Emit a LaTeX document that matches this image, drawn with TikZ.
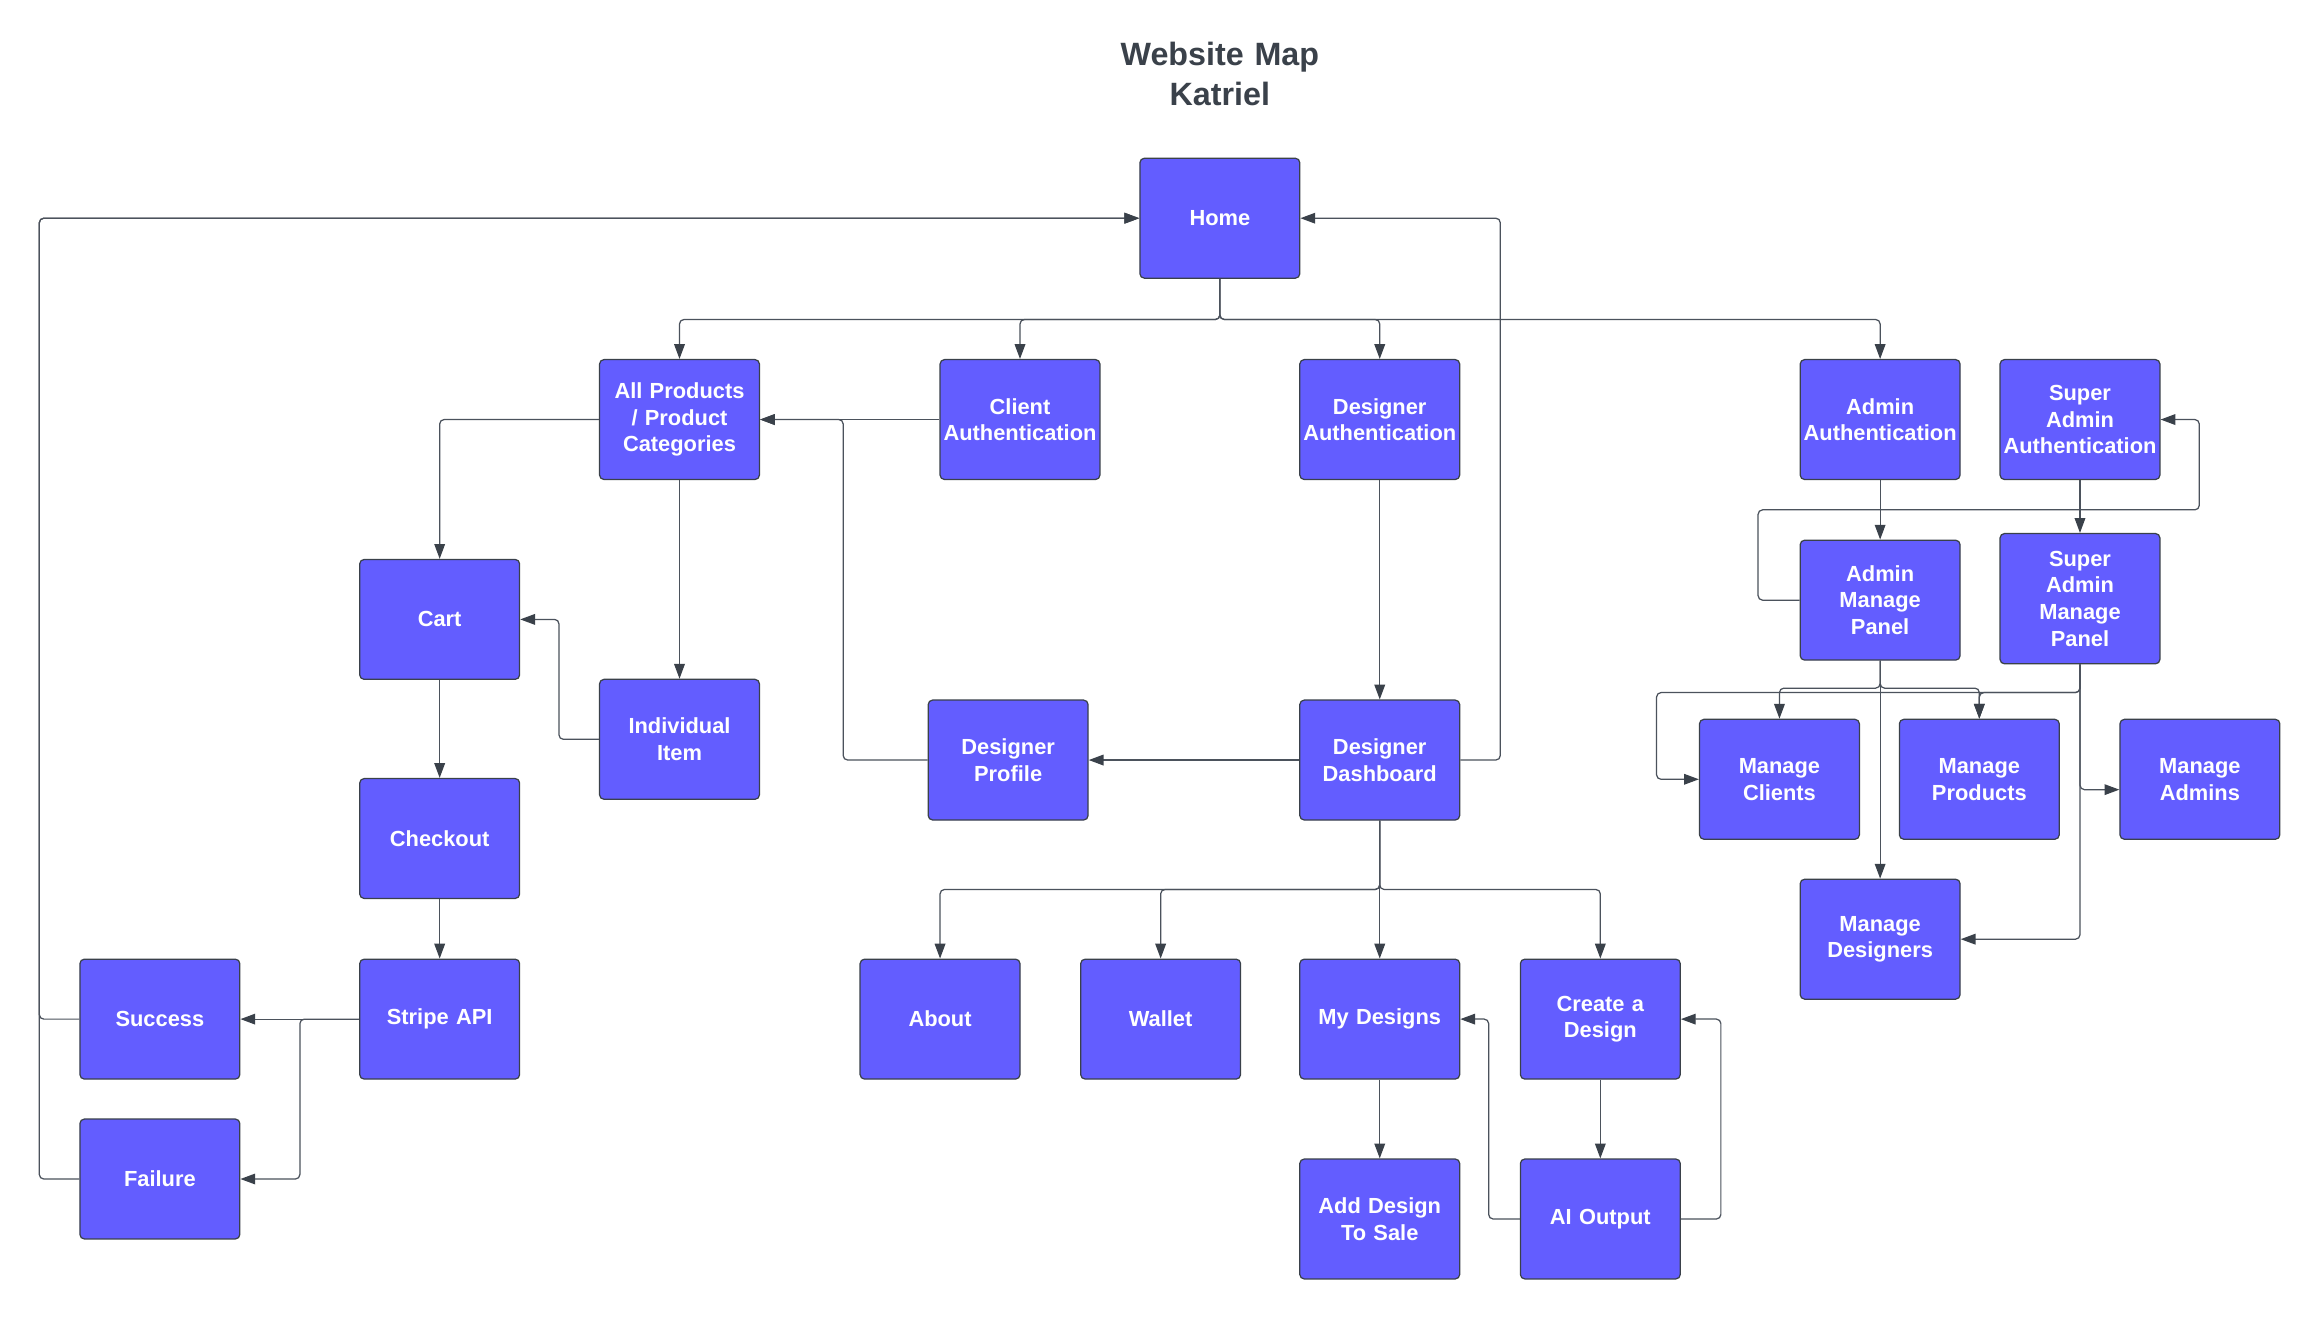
\documentclass[tikz,border=0pt]{standalone}
\usepackage{fontspec}
\setmainfont{Liberation Sans}
\usetikzlibrary{arrows.meta}
\definecolor{boxfill}{HTML}{635DFF}
\definecolor{boxline}{HTML}{3A414A}
\definecolor{wire}{HTML}{4B525C}
\tikzstyle{page} = [rectangle, rounded corners=0.15cm, minimum width=5.4cm, minimum height=4.05cm, text width=5.2cm, inner sep=0.1cm, text centered, draw=boxline, line width=1.2pt, fill=boxfill, text=white, font=\fontsize{21}{25.6}\selectfont\bfseries]
\tikzstyle{tallpage} = [page, minimum height=4.4cm]
\tikzstyle{title} = [text width=12cm, text centered, text=boxline, font=\fontsize{31}{38.4}\selectfont\bfseries]
\tikzstyle{arrow} = [line width=1.2pt, draw=wire, rounded corners=0.15cm, ->, >={Stealth[length=0.5cm, width=0.36cm, inset=0pt, color=boxline]}]

\begin{document}
\begin{tikzpicture}[node distance=6.8cm]
\fill [white] (-41.2,7.37) rectangle (37.19,-37.21);
\useasboundingbox (-41.2,7.37) rectangle (37.19,-37.21);

\node (home) [page] {Home};
\node (title) [title, above of=home, yshift=-1.925cm] {Website Map\\Katriel};
\node (clientauth) [page, below of=home, xshift=-6.75cm] {Client\\Authentication};
\node (allprod) [page, left of=clientauth, xshift=-4.7cm] {All Products\\/ Product\\Categories};
\node (desauth) [page, below of=home, xshift=5.4cm] {Designer\\Authentication};
\node (adminauth) [page, below of=home, xshift=22.3cm] {Admin\\Authentication};
\node (superauth) [page, right of=adminauth, xshift=-0.05cm] {Super\\Admin\\Authentication};
\node (cart) [page, below of=allprod, xshift=-8.1cm, yshift=0.05cm] {Cart};
\node (item) [page, below of=allprod, yshift=-4cm] {Individual\\Item};
\node (checkout) [page, below of=cart, yshift=-0.6cm] {Checkout};
\node (stripe) [page, below of=checkout, yshift=0.7cm] {Stripe API};
\node (success) [page, left of=stripe, xshift=-2.65cm] {Success};
\node (failure) [page, below of=success, yshift=1.4cm] {Failure};
\node (dashboard) [page, below of=desauth, yshift=-4.7cm] {Designer\\Dashboard};
\node (desprofile) [page, left of=dashboard, xshift=-5.75cm] {Designer\\Profile};
\node (mydesigns) [page, below of=dashboard, yshift=-1.95cm] {My Designs};
\node (wallet) [page, left of=mydesigns, xshift=-0.6cm] {Wallet};
\node (about) [page, left of=wallet, xshift=-0.65cm] {About};
\node (create) [page, right of=mydesigns, xshift=0.65cm] {Create a\\Design};
\node (addsale) [page, below of=mydesigns, yshift=0.05cm] {Add Design\\To Sale};
\node (aioutput) [page, below of=create, yshift=0.05cm] {AI Output};
\node (adminpanel) [page, below of=adminauth, yshift=0.7cm] {Admin\\Manage\\Panel};
\node (superpanel) [tallpage, below of=superauth, yshift=0.75cm] {Super\\Admin\\Manage\\Panel};
\node (mclients) [page, below of=adminpanel, xshift=-3.4cm, yshift=0.75cm] {Manage\\Clients};
\node (mproducts) [page, right of=mclients, xshift=-0.05cm] {Manage\\Products};
\node (madmins) [page, right of=mproducts, xshift=0.65cm] {Manage\\Admins};
\node (mdesigners) [page, below of=adminpanel, yshift=-4.65cm] {Manage\\Designers};

\draw [arrow] (home.south) -- ++(0,-1.375) -| (allprod.north);
\draw [arrow] (home.south) -- ++(0,-1.375) -| (clientauth.north);
\draw [arrow] (home.south) -- ++(0,-1.375) -| (desauth.north);
\draw [arrow] (home.south) -- ++(0,-1.375) -| (adminauth.north);
\draw [arrow] (success.west) -- ++(-1.35,0) |- (home.west);
\draw [arrow] (failure.west) -- ++(-1.35,0) |- (home.west);
\draw [arrow] (dashboard.east) -- ++(1.35,0) |- (home.east);
\draw [arrow] (clientauth.west) -- (allprod.east);
\draw [arrow] (desprofile.west) -- ++(-2.85,0) |- (allprod.east);
\draw [arrow] (allprod.west) -| (cart.north);
\draw [arrow] (allprod) -- (item);
\draw [arrow] (item.west) -- ++(-1.35,0) |- (cart.east);
\draw [arrow] (cart) -- (checkout);
\draw [arrow] (checkout) -- (stripe);
\draw [arrow] (stripe) -- (success);
\draw [arrow] (stripe.west) -- ++(-2,0) |- (failure.east);
\draw [arrow] (desauth) -- (dashboard);
\draw [arrow] (dashboard) -- (desprofile);
\draw [arrow] (dashboard.south) -- ++(0,-2.325) -| (about.north);
\draw [arrow] (dashboard.south) -- ++(0,-2.325) -| (wallet.north);
\draw [arrow] (dashboard) -- (mydesigns);
\draw [arrow] (dashboard.south) -- ++(0,-2.325) -| (create.north);
\draw [arrow] (mydesigns) -- (addsale);
\draw [arrow] (create) -- (aioutput);
\draw [arrow] (aioutput.west) -- ++(-1.05,0) |- (mydesigns.east);
\draw [arrow] (aioutput.east) -- ++(1.35,0) |- (create.east);
\draw [arrow] (adminauth) -- (adminpanel);
\draw [arrow] (superauth) -- (superpanel);
\draw [arrow] (adminpanel.west) -- ++(-1.4,0) -- ++(0,3.05) -- ++(14.9,0) |- (superauth.east);
\draw [arrow] (adminpanel.south) -- ++(0,-0.925) -| (mclients.north);
\draw [arrow] (adminpanel.south) -- ++(0,-0.925) -| (mproducts.north);
\draw [arrow] (adminpanel) -- (mdesigners);
\draw [arrow] (superpanel.south) -- ++(0,-0.95) -- ++(-14.3,0) |- (mclients.west);
\draw [arrow] (superpanel.south) -- ++(0,-0.95) -| (mproducts.north);
\draw [arrow] (superpanel.south) |- ([yshift=-0.35cm]madmins.west);
\draw [arrow] (superpanel.south) |- (mdesigners.east);

\end{tikzpicture}
\end{document}
